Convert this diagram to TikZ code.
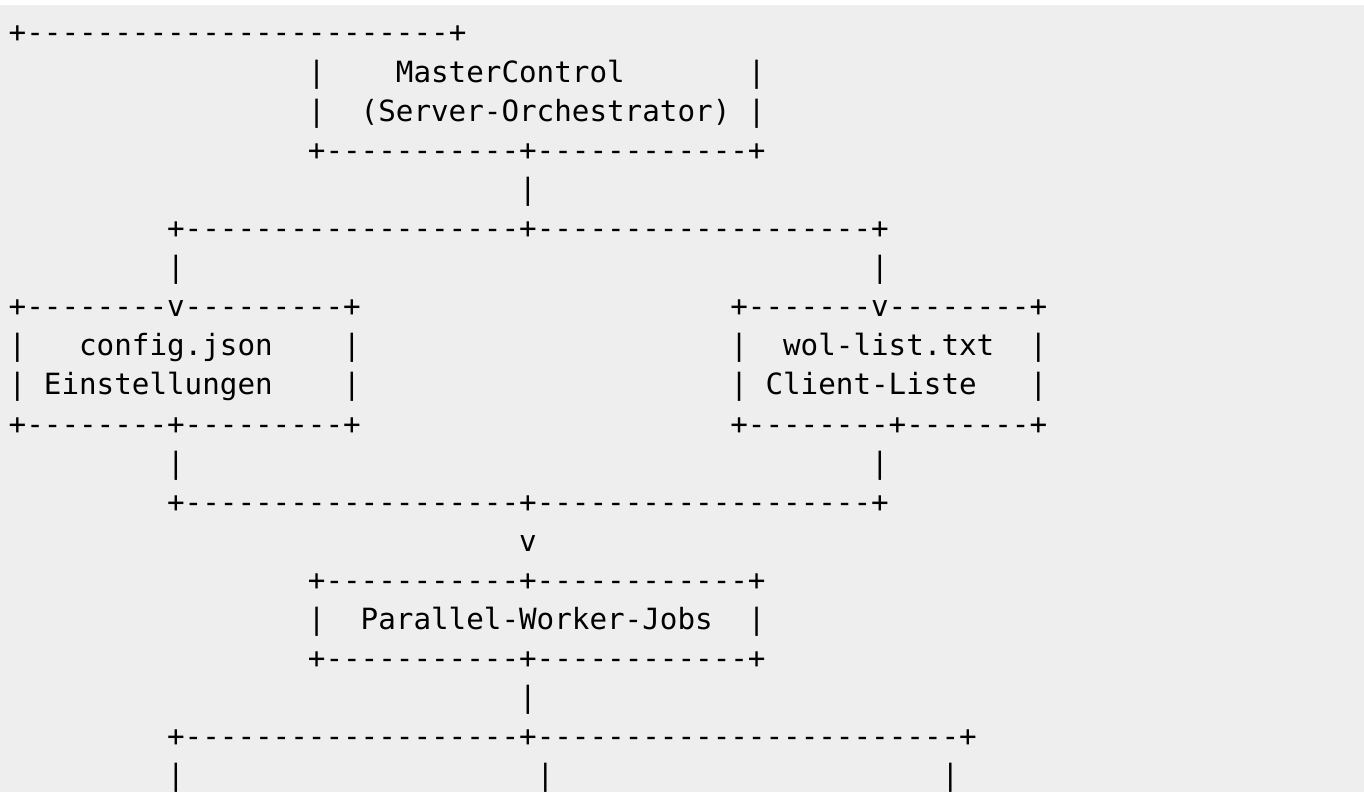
\documentclass[tikz,border=0pt]{standalone}
\usepackage{fontspec}
\setmonofont{DejaVu Sans Mono}
\usepackage{tikz}

\definecolor{pagebg}{HTML}{EEEEEE}
\tikzset{
    ascii/.style={anchor=base west, inner sep=0pt, outer sep=0pt,
        font=\ttfamily\fontsize{14.62pt}{17pt}\selectfont, text=black}
}

\begin{document}
\begin{tikzpicture}[x=8.8pt, y=-19.55pt, every node/.style={ascii}]
    \fill[white] (-4.35pt,21.5pt) rectangle (677.65pt,-374.5pt);
    \fill[pagebg] (-4.35pt,19pt) rectangle (677.65pt,-374.5pt);
    \useasboundingbox (-4.35pt,21.5pt) rectangle (677.65pt,-374.5pt);

    \node (mcTop) at (0,0) {+------------------------+};
    \node (mcL1) at (17,1) {|};
    \node (mcName) at (22,1) {MasterControl};
    \node (mcR1) at (42,1) {|};
    \node (mcL2) at (17,2) {|};
    \node (mcSub) at (20,2) {(Server-Orchestrator)};
    \node (mcR2) at (42,2) {|};
    \node (mcBottom) at (17,3) {+-----------+------------+};
    \node (mcDown) at (29,4) {|};

    \node (splitTop) at (9,5) {+-------------------+-------------------+};
    \node (cfgIn) at (9,6) {|};
    \node (wolIn) at (49,6) {|};

    \node (cfgTop) at (0,7) {+--------v---------+};
    \node (cfgL1) at (0,8) {|};
    \node (cfgName) at (4,8) {config.json};
    \node (cfgR1) at (19,8) {|};
    \node (cfgL2) at (0,9) {|};
    \node (cfgSub) at (2,9) {Einstellungen};
    \node (cfgR2) at (19,9) {|};
    \node (cfgBottom) at (0,10) {+--------+---------+};

    \node (wolTop) at (41,7) {+-------v--------+};
    \node (wolL1) at (41,8) {|};
    \node (wolName) at (44,8) {wol-list.txt};
    \node (wolR1) at (58,8) {|};
    \node (wolL2) at (41,9) {|};
    \node (wolSub) at (43,9) {Client-Liste};
    \node (wolR2) at (58,9) {|};
    \node (wolBottom) at (41,10) {+--------+-------+};

    \node (cfgOut) at (9,11) {|};
    \node (wolOut) at (49,11) {|};
    \node (joinBar) at (9,12) {+-------------------+-------------------+};
    \node (joinArrow) at (29,13) {v};

    \node (pwTop) at (17,14) {+-----------+------------+};
    \node (pwL) at (17,15) {|};
    \node (pwName) at (20,15) {Parallel-Worker-Jobs};
    \node (pwR) at (42,15) {|};
    \node (pwBottom) at (17,16) {+-----------+------------+};
    \node (pwDown) at (29,17) {|};

    \node (fanBar) at (9,18) {+-------------------+------------------------+};
    \node (fanA) at (9,19) {|};
    \node (fanB) at (30,19) {|};
    \node (fanC) at (53,19) {|};
\end{tikzpicture}
\end{document}
